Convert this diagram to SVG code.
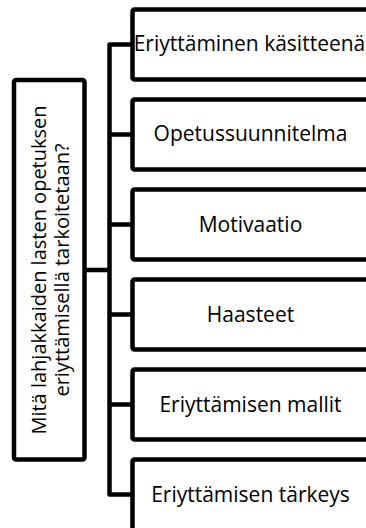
<svg xmlns="http://www.w3.org/2000/svg" width="366" height="528" viewBox="0 0 366 528">
<style>
.box{fill:#fff;stroke:#000;stroke-width:4.5;stroke-linejoin:round}
.ln{fill:none;stroke:#000;stroke-width:4.5;stroke-linejoin:round}
.t{font-family:"Open Sans","Noto Sans",sans-serif;font-size:21px;fill:#000;text-anchor:middle}
.r{font-size:20px}
</style>
<rect width="366" height="528" fill="#fff"/>
<g id="connectors">
<path class="ln" d="M132.5,44.5 H109.5 V494.5 H132.5"/>
<path class="ln" d="M109.5,134.5 H132.5 M109.5,224.5 H132.5 M109.5,314.5 H132.5 M109.5,404.5 H132.5 M84.5,270 H109.5"/>
</g>
<g id="root">
<rect class="box" x="14" y="80" width="70.5" height="379.5" rx="2"/>
<text class="t r" transform="translate(46,270) rotate(-90)">Mitä lahjakkaiden lasten opetuksen</text>
<text class="t r" transform="translate(69,270) rotate(-90)">eriyttämisellä tarkoitetaan?</text>
</g>
<g id="n1"><rect class="box" x="132.5" y="9.5" width="240" height="70" rx="2"/><text class="t" x="249.5" y="51">Eriyttäminen käsitteenä</text></g>
<g id="n2"><rect class="box" x="132.5" y="99.5" width="240" height="70" rx="2"/><text class="t" x="250.5" y="141">Opetussuunnitelma</text></g>
<g id="n3"><rect class="box" x="132.5" y="189.5" width="240" height="70" rx="2"/><text class="t" x="250.5" y="232">Motivaatio</text></g>
<g id="n4"><rect class="box" x="132.5" y="279.5" width="240" height="70" rx="2"/><text class="t" x="250.5" y="322">Haasteet</text></g>
<g id="n5"><rect class="box" x="132.5" y="369.5" width="240" height="70" rx="2"/><text class="t" x="250.5" y="412">Eriyttämisen mallit</text></g>
<g id="n6"><rect class="box" x="132.5" y="459.5" width="240" height="80" rx="2"/><text class="t" x="250.5" y="502">Eriyttämisen tärkeys</text></g>
</svg>
